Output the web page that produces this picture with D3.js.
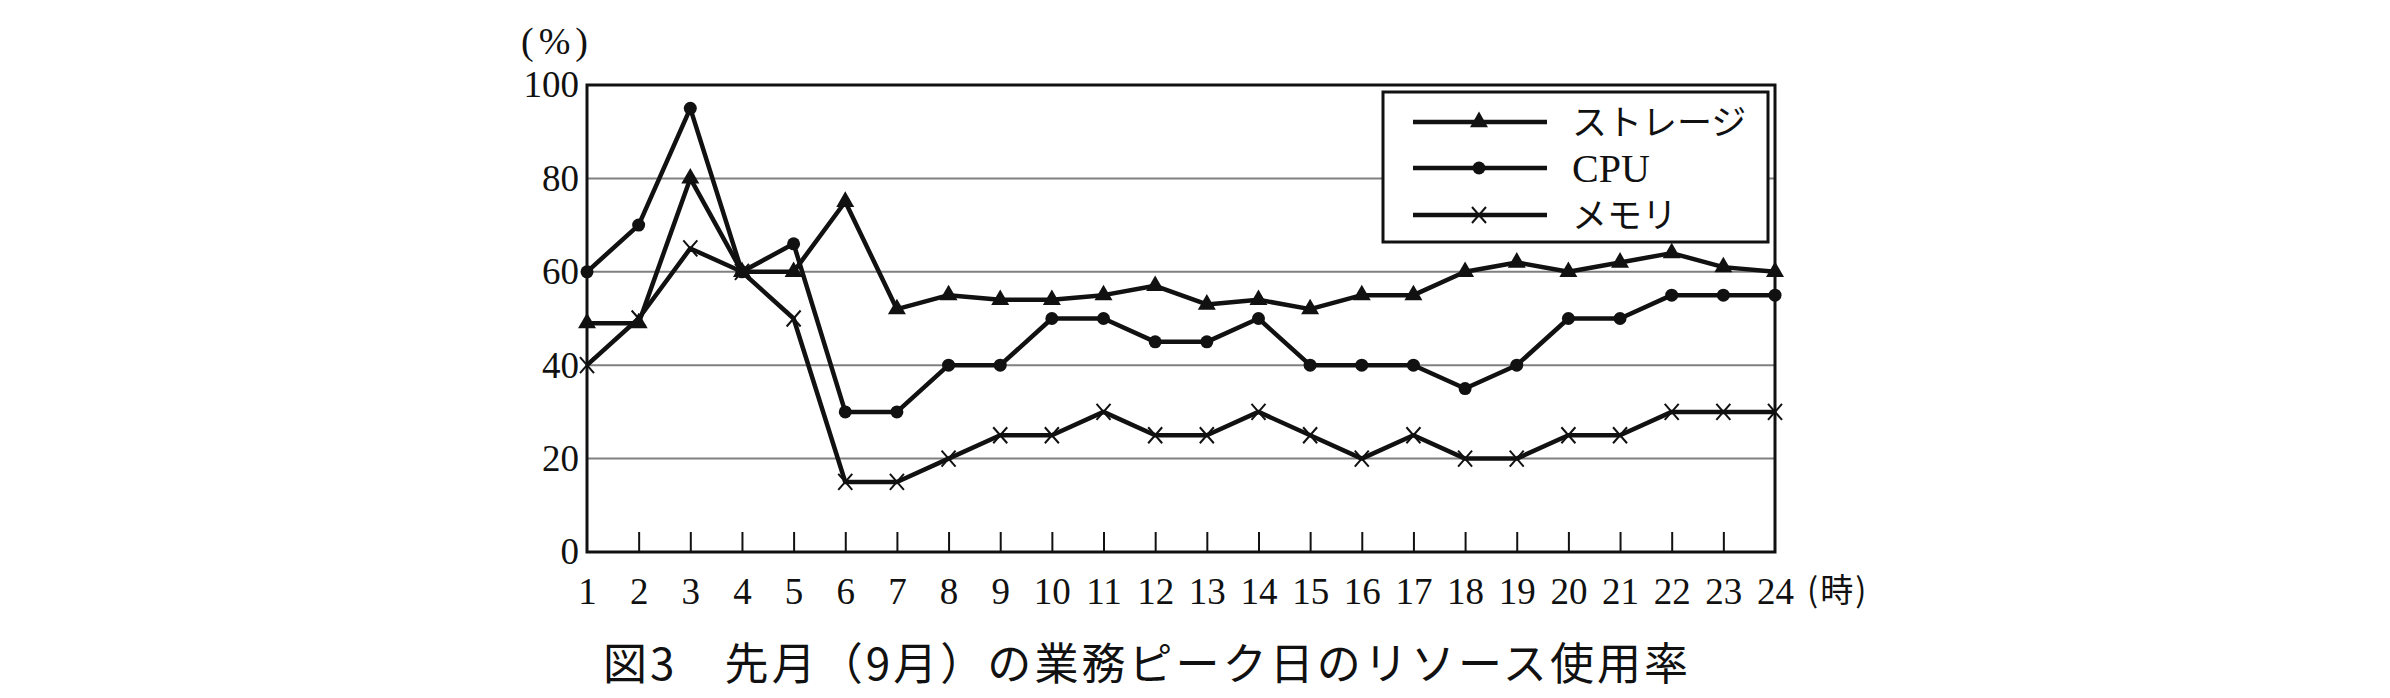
<!DOCTYPE html>
<html lang="ja">
<head>
<meta charset="utf-8">
<title>図3 先月（9月）の業務ピーク日のリソース使用率</title>
<script src="https://cdn.jsdelivr.net/npm/d3@7"></script>
<style>
    html, body { margin: 0; padding: 0; background: #fff; }
    svg { display: block; }
</style>
</head>
<body>
<div id="chart"></div>
<script>
// 時刻 (1〜24時)
const hours = d3.range(1, 25);
const yTicks = [0, 20, 40, 60, 80, 100];

// 使用率 (%)
const storage = [49, 49, 80, 60, 60, 75, 52, 55, 54, 54, 55, 57, 53, 54, 52, 55, 55, 60, 62, 60, 62, 64, 61, 60];
const cpu     = [60, 70, 95, 60, 66, 30, 30, 40, 40, 50, 50, 45, 45, 50, 40, 40, 40, 35, 40, 50, 50, 55, 55, 55];
const memory  = [40, 50, 65, 60, 50, 15, 15, 20, 25, 25, 30, 25, 25, 30, 25, 20, 25, 20, 20, 25, 25, 30, 30, 30];

const seriesNames = ["ストレージ", "CPU", "メモリ"];
const markers = ["triangle", "circle", "cross"];

const caption = "図3　先月（9月）の業務ピーク日のリソース使用率";

const config = {div: "#chart", width: 2390, height: 698,
                left: 587, right: 1775, top: 85, bottom: 552};

const SERIF = "'Liberation Serif', 'DejaVu Serif', serif";
const GOTHIC = "'Noto Sans CJK JP', 'Noto Sans', sans-serif";

const svg = d3.select(config.div)
    .append("svg")
    .attr("width", config.width)
    .attr("height", config.height);

const x = d3.scaleLinear().domain([1, 24]).range([config.left, config.right]);
const y = d3.scaleLinear().domain([0, 100]).range([config.bottom, config.top]);

// grid lines (20,40,60,80)
svg.append("g")
    .selectAll("line")
    .data(yTicks.filter(v => v > 0 && v < 100))
    .enter().append("line")
        .attr("x1", config.left)
        .attr("x2", config.right)
        .attr("y1", d => y(d))
        .attr("y2", d => y(d))
        .attr("stroke", "#808080")
        .attr("stroke-width", 2);

// frame
svg.append("rect")
    .attr("x", config.left)
    .attr("y", config.top)
    .attr("width", config.right - config.left)
    .attr("height", config.bottom - config.top)
    .attr("fill", "none")
    .attr("stroke", "#111")
    .attr("stroke-width", 3);

// x ticks point up from the bottom axis
const xAxis = d3.axisBottom(x)
    .tickValues(hours)
    .tickSize(-20)
    .tickPadding(26)
    .tickFormat(d3.format("d"));

const gx = svg.append("g")
    .attr("transform", `translate(0,${config.bottom})`)
    .call(xAxis);
gx.select(".domain").remove();
gx.selectAll(".tick line")
    .attr("stroke", "#111")
    .attr("stroke-width", 2)
    .filter(d => d == 1 || d == 24).remove();
gx.selectAll(".tick text")
    .attr("font-family", SERIF)
    .attr("font-size", 37)
    .attr("fill", "#111");

// y labels
const yAxis = d3.axisLeft(y)
    .tickValues(yTicks)
    .tickSize(0)
    .tickPadding(8);

const gy = svg.append("g")
    .attr("transform", `translate(${config.left},0)`)
    .call(yAxis);
gy.select(".domain").remove();
gy.selectAll(".tick text")
    .attr("font-family", SERIF)
    .attr("font-size", 37)
    .attr("fill", "#111");

// unit labels
svg.append("text")
    .attr("x", 557)
    .attr("y", 54)
    .attr("text-anchor", "middle")
    .attr("font-family", SERIF)
    .attr("font-size", 38)
    .attr("letter-spacing", 5)
    .attr("fill", "#111")
    .text("(%)");

svg.append("text")
    .attr("x", 1807)
    .attr("y", 602)
    .attr("font-family", GOTHIC)
    .attr("font-size", 33)
    .attr("letter-spacing", 2)
    .attr("fill", "#111")
    .text("(時)");

// marker drawing
function drawMarker(g, kind, cx, cy) {
    if (kind == "triangle") {
        g.append("path")
            .attr("d", d3.symbol().type(d3.symbolTriangle).size(140)())
            .attr("transform", `translate(${cx},${cy})`)
            .attr("fill", "#111");
    } else if (kind == "circle") {
        g.append("circle")
            .attr("cx", cx)
            .attr("cy", cy)
            .attr("r", 6.5)
            .attr("fill", "#111");
    } else {
        g.append("path")
            .attr("d", `M${cx-7},${cy-8}L${cx+7},${cy+8}M${cx-7},${cy+8}L${cx+7},${cy-8}`)
            .attr("stroke", "#111")
            .attr("stroke-width", 2)
            .attr("fill", "none");
    }
}

const line = d3.line()
    .x((d, i) => x(hours[i]))
    .y(d => y(d));

const allSeries = [storage, cpu, memory];

// lines
allSeries.forEach((values, k) => {
    const g = svg.append("g");
    g.append("path")
        .datum(values)
        .attr("d", line)
        .attr("fill", "none")
        .attr("stroke", "#111")
        .attr("stroke-width", 4.5)
        .attr("stroke-linejoin", "round");
    values.forEach((v, i) => drawMarker(g, markers[k], x(hours[i]), y(v)));
});

// legend
const legend = svg.append("g");
legend.append("rect")
    .attr("x", 1383)
    .attr("y", 92)
    .attr("width", 385)
    .attr("height", 150)
    .attr("fill", "#fff")
    .attr("stroke", "#111")
    .attr("stroke-width", 3);

const rowY = [122, 168, 215];
seriesNames.forEach((name, k) => {
    legend.append("line")
        .attr("x1", 1413)
        .attr("x2", 1547)
        .attr("y1", rowY[k])
        .attr("y2", rowY[k])
        .attr("stroke", "#111")
        .attr("stroke-width", 4.5);
    drawMarker(legend, markers[k], 1479, rowY[k]);
    legend.append("text")
        .attr("x", 1572)
        .attr("y", rowY[k])
        .attr("dy", "0.36em")
        .attr("font-family", name == "CPU" ? SERIF : GOTHIC)
        .attr("font-size", name == "CPU" ? 40 : 35)
        .attr("fill", "#111")
        .text(name);
});

// caption
svg.append("text")
    .attr("x", 603)
    .attr("y", 680)
    .attr("font-family", GOTHIC)
    .attr("font-size", 44)
    .attr("fill", "#111")
    .attr("textLength", 1085)
    .attr("lengthAdjust", "spacing")
    .text(caption);
</script>
</body>
</html>
